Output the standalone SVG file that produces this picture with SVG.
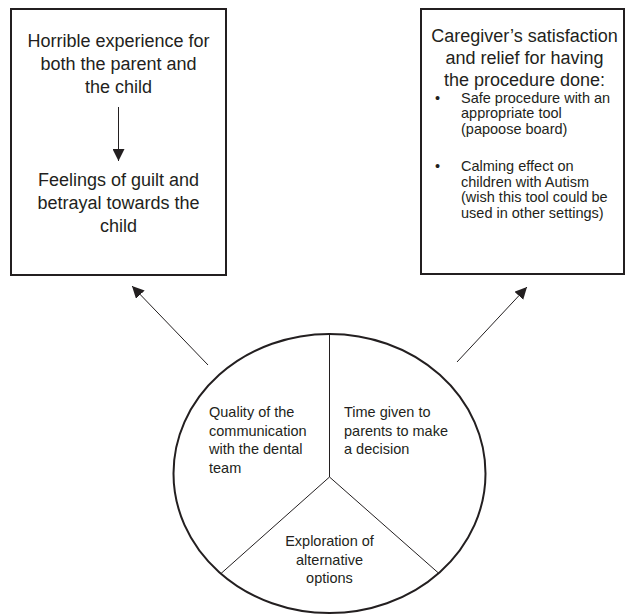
<svg xmlns="http://www.w3.org/2000/svg" width="626" height="616" viewBox="0 0 626 616">
<style>
  .box { fill: #ffffff; stroke: #231f20; stroke-width: 2; }
  .big { font-family: "Liberation Sans", Arial, sans-serif; font-size: 18px; fill: #231f20; }
  .sm { font-family: "Liberation Sans", Arial, sans-serif; font-size: 14.5px; fill: #231f20; }
  .mid { text-anchor: middle; }
  .conn { stroke: #231f20; stroke-width: 1; fill: none; }
  .pie { stroke: #231f20; stroke-width: 1; fill: none; }
</style>
<defs>
  <marker id="ah" markerUnits="userSpaceOnUse" markerWidth="12" markerHeight="12" viewBox="0 0 12 12" refX="12" refY="6" orient="auto">
    <path d="M0,0 L12,6 L0,12 Z" fill="#231f20"/>
  </marker>
</defs>
<rect width="626" height="616" fill="#ffffff"/>

<g id="left-box">
  <rect class="box" x="11" y="9" width="215" height="266"/>
  <text class="big mid" x="118.5" y="47">Horrible experience for</text>
  <text class="big mid" x="118.5" y="70">both the parent and</text>
  <text class="big mid" x="118.5" y="93">the child</text>
  <line class="conn" x1="118.5" y1="107" x2="118.5" y2="161" marker-end="url(#ah)"/>
  <text class="big mid" x="118.5" y="186">Feelings of guilt and</text>
  <text class="big mid" x="118.5" y="209">betrayal towards the</text>
  <text class="big mid" x="118.5" y="232">child</text>
</g>

<g id="right-box">
  <rect class="box" x="421" y="9" width="203" height="265"/>
  <text class="big mid" x="524.5" y="42">Caregiver’s satisfaction</text>
  <text class="big mid" x="524.5" y="64">and relief for having</text>
  <text class="big mid" x="524.5" y="86">the procedure done:</text>
  <text class="sm" x="435" y="102.5">•</text>
  <text class="sm" x="461" y="102.5">Safe procedure with an</text>
  <text class="sm" x="461" y="118">appropriate tool</text>
  <text class="sm" x="461" y="133.5">(papoose board)</text>
  <text class="sm" x="435" y="171">•</text>
  <text class="sm" x="461" y="171">Calming effect on</text>
  <text class="sm" x="461" y="186.5">children with Autism</text>
  <text class="sm" x="461" y="202">(wish this tool could be</text>
  <text class="sm" x="461" y="217.5">used in other settings)</text>
</g>

<g id="circle">
  <ellipse cx="329.5" cy="473.5" rx="156" ry="139.5" fill="#ffffff" stroke="#231f20" stroke-width="2"/>
  <path class="pie" d="M329.5,334 L329.5,477 M329.5,477 L221,573.5 M329.5,477 L439,573.5"/>
  <text class="sm" x="209" y="416.7">Quality of the</text>
  <text class="sm" x="209" y="435.5">communication</text>
  <text class="sm" x="209" y="454">with the dental</text>
  <text class="sm" x="209" y="472.7">team</text>
  <text class="sm" x="344" y="416.7">Time given to</text>
  <text class="sm" x="344" y="435.5">parents to make</text>
  <text class="sm" x="344" y="454">a decision</text>
  <text class="sm mid" x="329.5" y="546">Exploration of</text>
  <text class="sm mid" x="329.5" y="564.5">alternative</text>
  <text class="sm mid" x="329.5" y="583">options</text>
</g>

<g id="connectors">
  <line class="conn" x1="208" y1="365" x2="132" y2="286" marker-end="url(#ah)"/>
  <line class="conn" x1="457" y1="362" x2="527" y2="287" marker-end="url(#ah)"/>
</g>
</svg>
